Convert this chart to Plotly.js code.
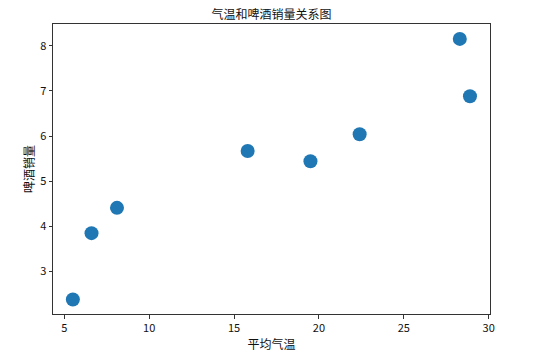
<!DOCTYPE html>
<html><head><meta charset="utf-8">
<script src="https://cdn.plot.ly/plotly-3.0.1.min.js"></script>
<style>html,body{margin:0;padding:0;background:#fff}#chart{width:534px;height:360px}</style>
</head><body><div id="chart"></div>
<script>
const temperature = [5.5, 6.6, 8.1, 15.8, 19.5, 22.4, 28.3, 28.9];
const beerSales = [2.38, 3.85, 4.41, 5.67, 5.44, 6.04, 8.15, 6.88];
const titleText = '气温和啤酒销量关系图';
const xLabel = '平均气温';
const yLabel = '啤酒销量';
const xTicks = [5, 10, 15, 20, 25, 30];
const yTicks = [3, 4, 5, 6, 7, 8];

const font = '"Noto Sans CJK SC", "DejaVu Sans", sans-serif';
const axisCommon = {
  showgrid: false, zeroline: false, showline: true, mirror: true,
  linecolor: '#333', linewidth: 1, ticks: 'outside', ticklen: 3.5,
  tickcolor: '#333', tickfont: {family: font, size: 11, color: '#111'}
};
Plotly.newPlot('chart', [{
  x: temperature, y: beerSales, type: 'scatter', mode: 'markers',
  marker: {color: '#1f77b4', size: 14, line: {width: 0}}, hoverinfo: 'skip'
}], {
  width: 534, height: 360,
  margin: {l: 53, r: 44, t: 24, b: 46},
  paper_bgcolor: '#fff', plot_bgcolor: '#fff',
  title: {text: titleText, font: {family: font, size: 12, color: '#111'}, x: 0.5, xref: 'paper', y: 1, yref: 'paper', yanchor: 'bottom', pad: {b: 5}},
  xaxis: Object.assign({}, axisCommon, {range: [4.33, 30.08], tickvals: xTicks,
    title: {text: xLabel, font: {family: font, size: 12, color: '#111'}, standoff: 6}}),
  yaxis: Object.assign({}, axisCommon, {range: [2.06, 8.48], tickvals: yTicks,
    title: {text: yLabel, font: {family: font, size: 12, color: '#111'}, standoff: 2}}),
  showlegend: false
}, {staticPlot: true, displayModeBar: false});
</script></body></html>
